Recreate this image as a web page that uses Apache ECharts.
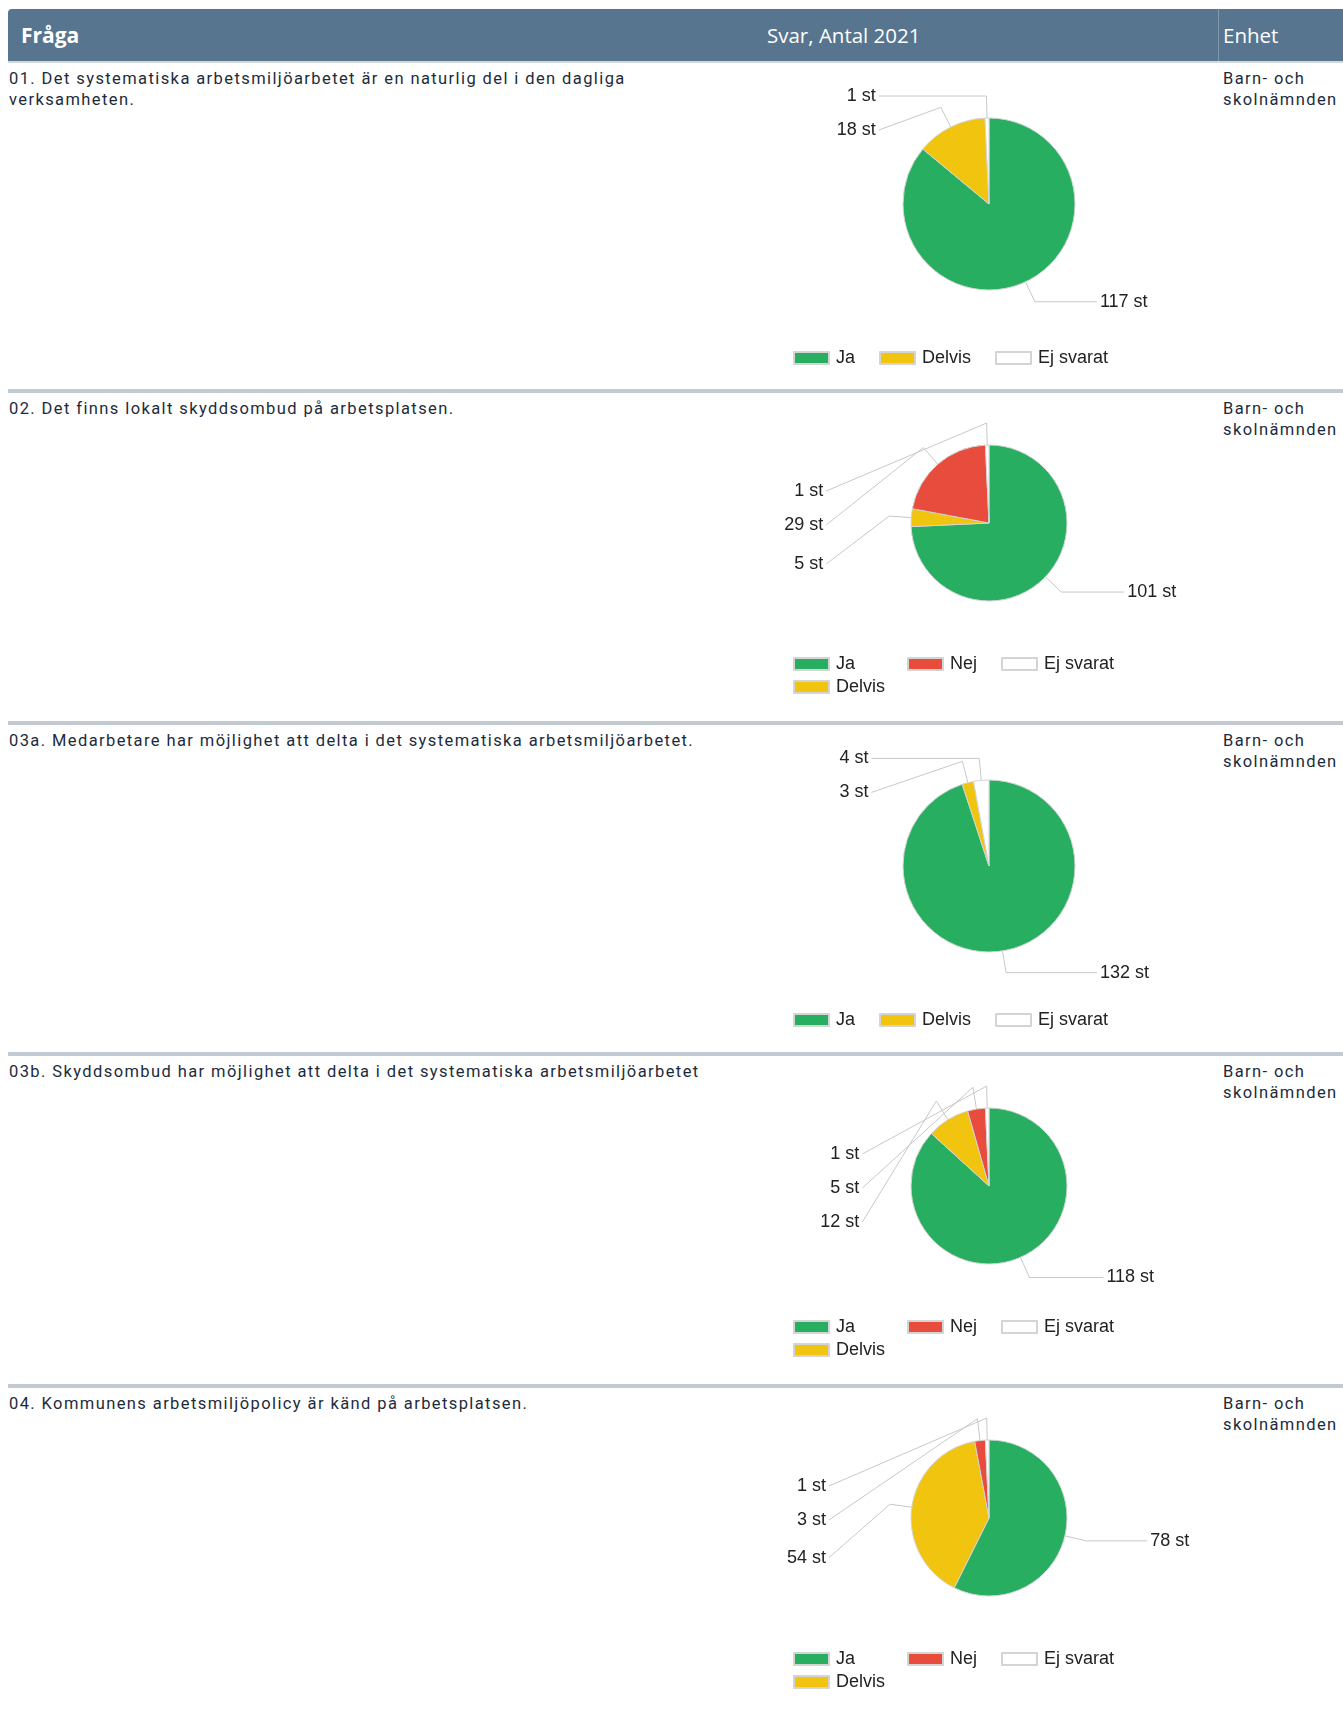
<!DOCTYPE html>
<html>
<head>
<meta charset="utf-8">
<script src="https://cdn.jsdelivr.net/npm/echarts/dist/echarts.min.js"></script>
<style>
  body { margin: 0; background: #fff; width: 1343px; height: 1711px; position: relative; overflow: hidden; }
  .hdr { position: absolute; left: 8px; top: 9px; width: 1335px; height: 52px; background: #58758f; border-top-left-radius: 4px; }
  .hdr span { position: absolute; top: 0; color: #fff; font-family: 'Open Sans'; font-size: 20.5px; line-height: 52px; white-space: nowrap; }
  .hdr .div { position: absolute; left: 1210px; top: 0; width: 1px; height: 52px; background: #8199ad; }
  .hline { position: absolute; left: 8px; width: 1335px; background: #c3cbd2; }
  .txt { position: absolute; font-family: Roboto; font-size: 16.5px; line-height: 21px; letter-spacing: 1.4px; color: #1c2b3b; white-space: pre; }
  .chart { position: absolute; left: 760px; width: 458px; height: 326px; }
</style>
</head>
<body>
<div class="hdr">
  <span style="left:13px;font-weight:bold;font-size:21px">Fråga</span>
  <span style="left:759px">Svar, Antal 2021</span>
  <span style="left:1215px">Enhet</span>
  <div class="div"></div>
</div>
<div class="hline" style="top:61px;height:2px;background:#d3d8dc"></div>
<div id="rows"></div>
<script>
var questions = [
  '01. Det systematiska arbetsmiljöarbetet är en naturlig del i den dagliga\nverksamheten.',
  '02. Det finns lokalt skyddsombud på arbetsplatsen.',
  '03a. Medarbetare har möjlighet att delta i det systematiska arbetsmiljöarbetet.',
  '03b. Skyddsombud har möjlighet att delta i det systematiska arbetsmiljöarbetet',
  '04. Kommunens arbetsmiljöpolicy är känd på arbetsplatsen.'
];
var unitName = 'Barn- och\nskolnämnden';

// pie order (clockwise from top)
var cats3 = ['Ja', 'Delvis', 'Ej svarat'];
var cats4 = ['Ja', 'Delvis', 'Nej', 'Ej svarat'];
var q01 = [117, 18, 1];
var q02 = [101, 5, 29, 1];
var q03a = [132, 3, 4];
var q03b = [118, 12, 5, 1];
var q04 = [78, 54, 3, 1];

var rows = [[cats3, q01], [cats4, q02], [cats3, q03a], [cats4, q03b], [cats4, q04]];
var colors = { 'Ja': '#28ae60', 'Delvis': '#f1c40f', 'Nej': '#e74c3c', 'Ej svarat': '#ffffff' };
var rowTops = [63, 393, 725, 1056, 1388];
// horizontal part of the label lines, per chart
var lineReach = [60, 61, 89, 72, 59];

var labelFont = 'Liberation Sans, Arial, sans-serif';
var RADIAL = 22;

function legendBase(left, top, data) {
  return {
    left: left,
    top: top,
    padding: 0,
    orient: 'horizontal',
    itemWidth: 35,
    itemHeight: 12,
    itemGap: 24,
    icon: 'rect',
    selectedMode: false,
    data: data,
    textStyle: { fontFamily: labelFont, fontSize: 18, color: '#222', padding: [0, 0, 0, 2] }
  };
}

function pieOption(cats, vals, reach) {
  var four = cats.length > 3;
  var boxTop = four ? 81 : 0;          // labels are kept inside the series box
  var cx = 229, cy = four ? 130 : 141;
  var legends;
  if (four) {
    // two legend rows laid out as columns: [Ja / Delvis] [Nej] [Ej svarat]
    legends = [
      legendBase(33, 262, ['Ja']),
      legendBase(147, 262, ['Nej', 'Ej svarat']),
      legendBase(33, 285, ['Delvis'])
    ];
  } else {
    legends = [legendBase(33, 286, cats)];
  }
  return {
    animation: false,
    legend: legends,
    series: [{
      type: 'pie',
      top: boxTop,
      bottom: 0,
      center: [cx, cy - boxTop],
      radius: four ? 78 : 86,
      startAngle: 90,
      clockwise: true,
      minShowLabelAngle: 0,
      avoidLabelOverlap: true,
      data: cats.map(function (c, j) {
        return { name: c, value: vals[j], itemStyle: { color: colors[c] } };
      }),
      itemStyle: { borderColor: '#d4d4d4', borderWidth: 1 },
      label: {
        formatter: '{c} st',
        fontFamily: labelFont,
        fontSize: 18,
        lineHeight: 32,
        color: '#222',
        alignTo: 'labelLine'
      },
      labelLine: { length: RADIAL, length2: reach, lineStyle: { color: '#c8c8c8', width: 1 } },
      // radial stub from the slice, then straight to the label
      labelLayout: function (p) {
        var pts = p.labelLinePoints;
        if (!pts) return {};
        var e = pts[0];
        var dx = e[0] - cx, dy = e[1] - cy;
        var d = Math.sqrt(dx * dx + dy * dy) || 1;
        var turn = [e[0] + dx / d * RADIAL, e[1] + dy / d * RADIAL];
        var r = p.labelRect;
        var ly = r.y + r.height / 2;
        var lx = (r.x + r.width / 2 < cx) ? r.x + r.width + 3 : r.x - 3;
        return { labelLinePoints: [e, turn, [lx, ly]] };
      },
      emphasis: { disabled: true }
    }]
  };
}

var wrap = document.getElementById('rows');
rows.forEach(function (r, i) {
  var top = rowTops[i];
  if (i > 0) {
    var sep = document.createElement('div');
    sep.className = 'hline';
    sep.style.top = (top - 4) + 'px';
    sep.style.height = '4px';
    wrap.appendChild(sep);
  }
  var q = document.createElement('div');
  q.className = 'txt';
  q.style.left = '9px';
  q.style.top = (top + 5) + 'px';
  q.textContent = questions[i];
  wrap.appendChild(q);

  var u = document.createElement('div');
  u.className = 'txt';
  u.style.left = '1223px';
  u.style.top = (top + 5) + 'px';
  u.textContent = unitName;
  wrap.appendChild(u);

  var c = document.createElement('div');
  c.className = 'chart';
  c.style.top = top + 'px';
  wrap.appendChild(c);
  var chart = echarts.init(c);
  chart.setOption(pieOption(r[0], r[1], lineReach[i]));
});
</script>
</body>
</html>
